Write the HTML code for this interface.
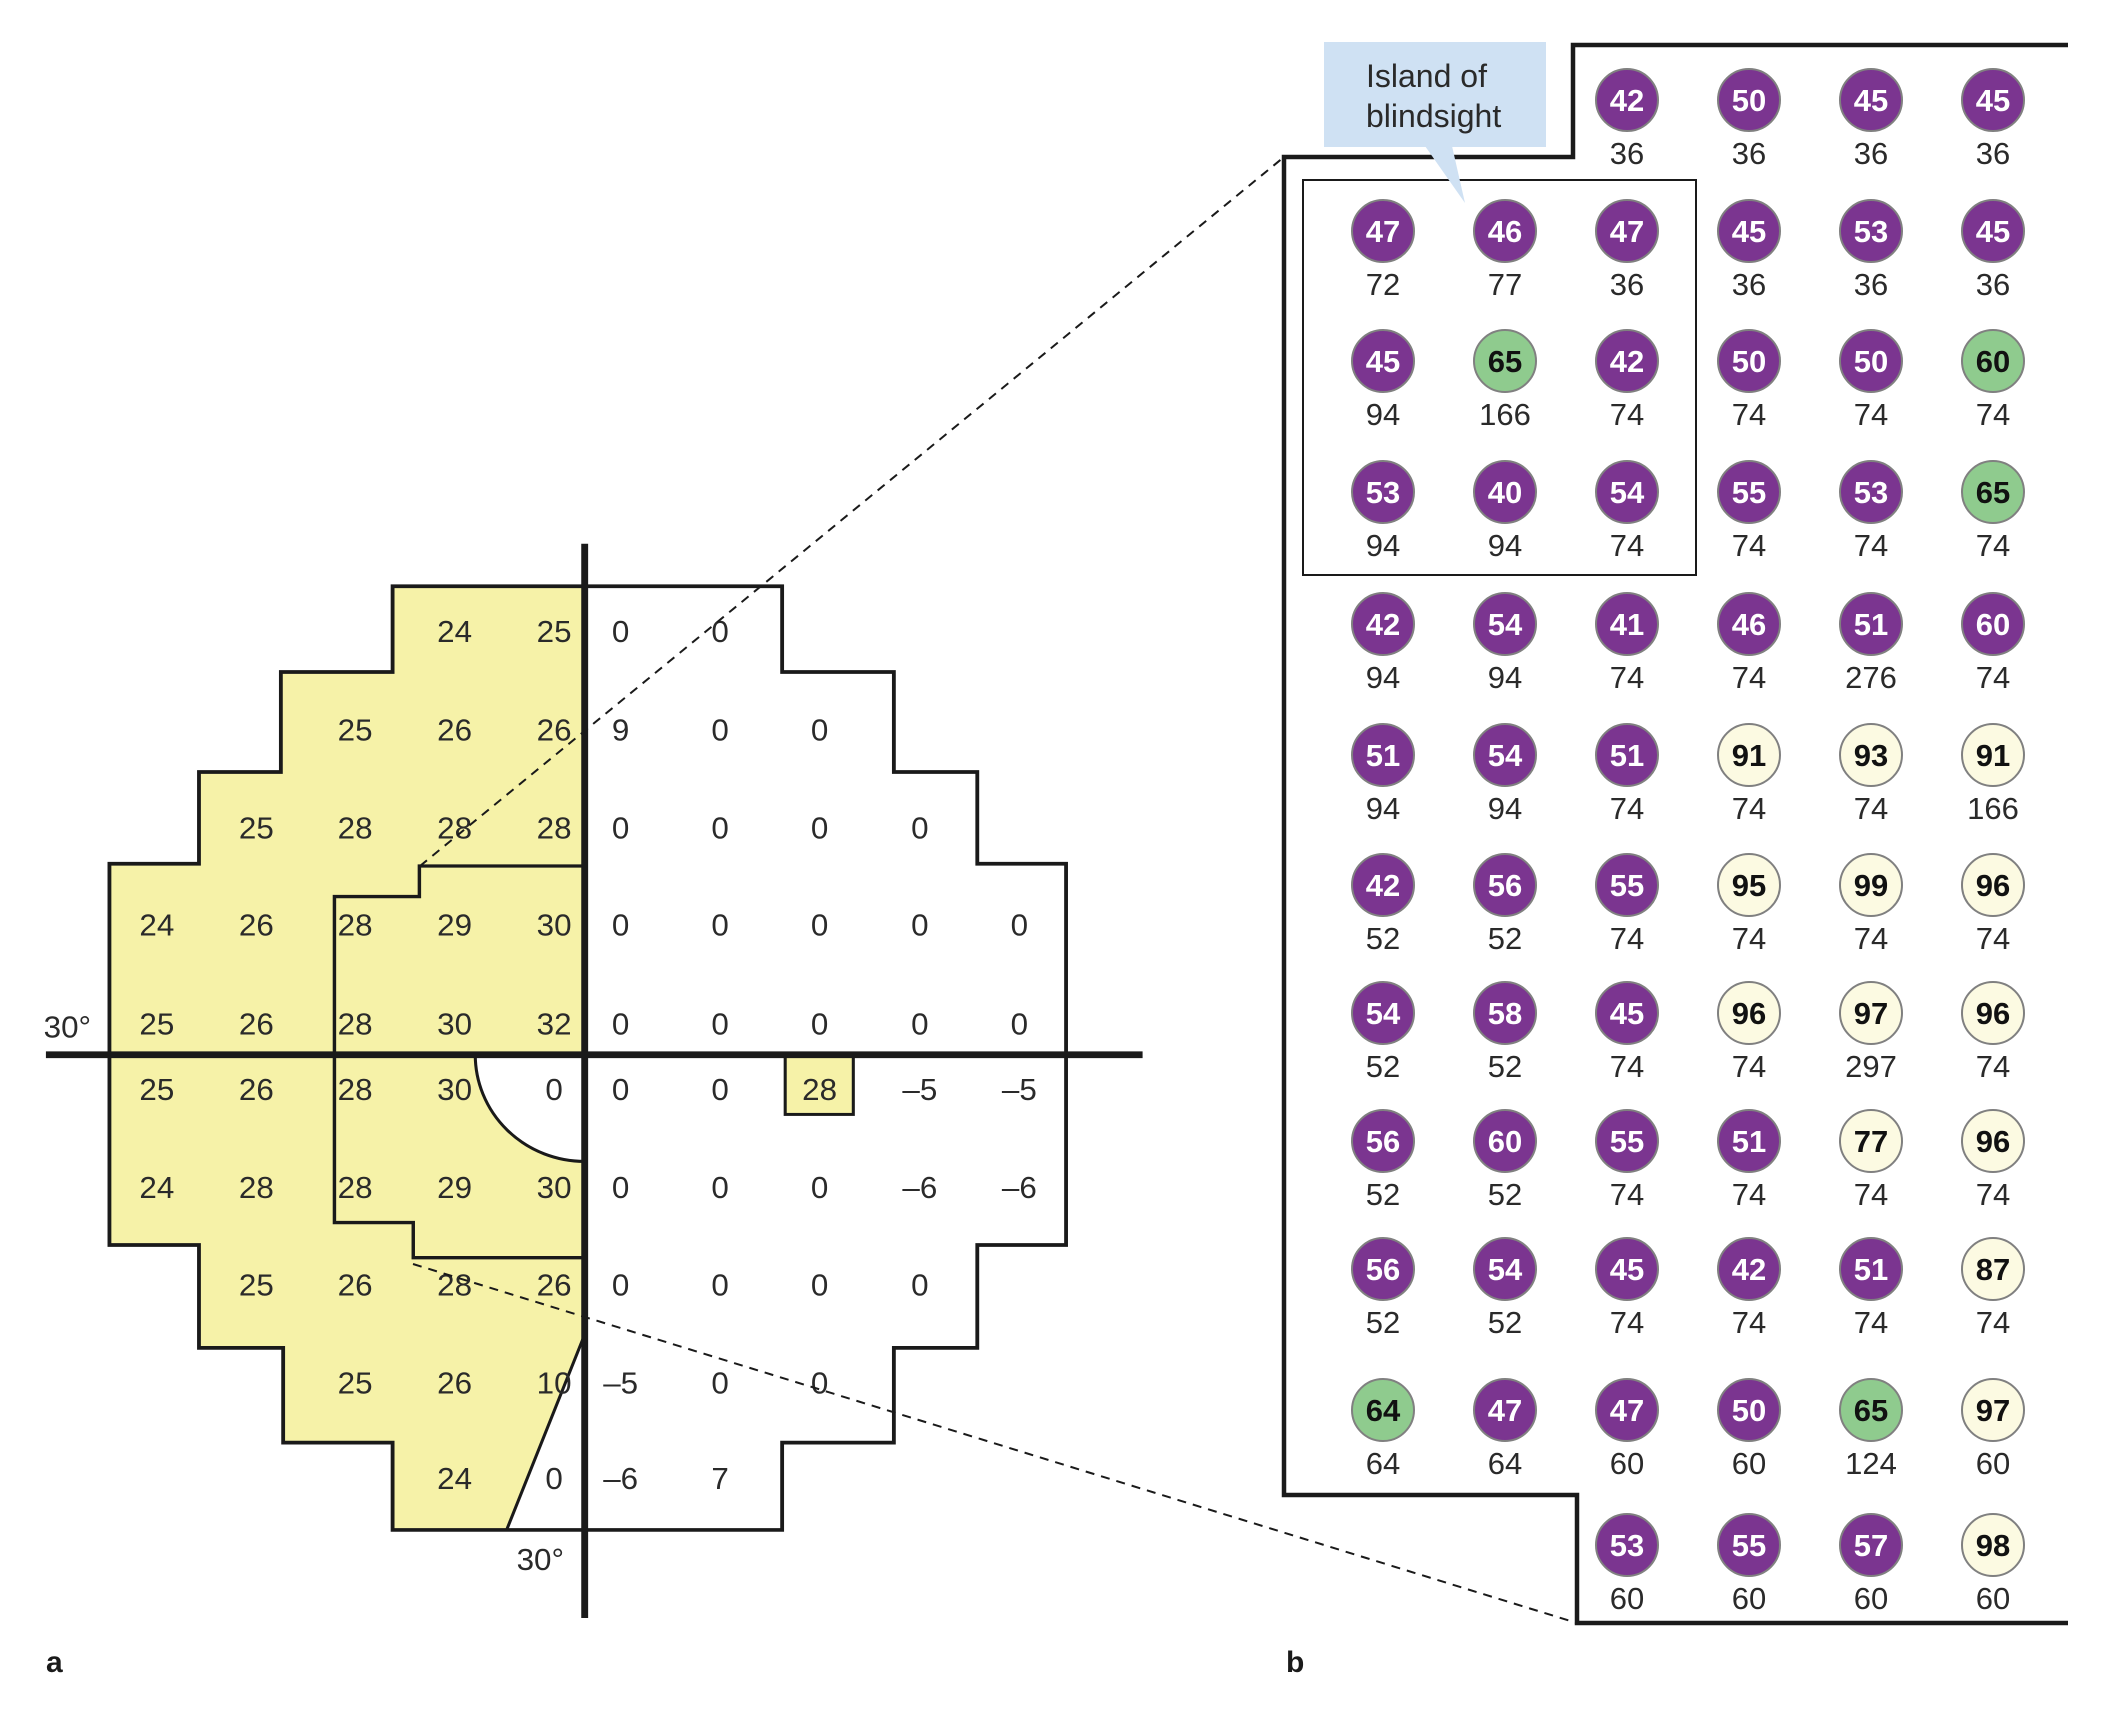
<!DOCTYPE html>
<html><head><meta charset="utf-8"><style>
html,body{margin:0;padding:0;background:#fff;}
svg{display:block;}
text{font-family:"Liberation Sans",sans-serif;}
.n{font-size:41px;fill:#2a2a2a;text-anchor:middle;}
.c{font-size:31px;font-weight:bold;text-anchor:middle;}
.l{font-size:31px;fill:#2a2a2a;text-anchor:middle;}
</style></head><body>
<svg width="2112" height="1711" viewBox="0 0 2112 1711" xmlns="http://www.w3.org/2000/svg">
<g transform="translate(0,540) scale(0.7653,0.746)">
<polygon points="513,62 764,62 764,1065 662,1327 513,1327 513,1210 370,1210 370,1083 260,1083 260,945 143,945 143,434 260,434 260,311 367,311 367,177 513,177" fill="#f6f2a8"/>
<path d="M621,690 A143,143 0 0 0 764,833 L764,690 Z" fill="#fff" stroke="#1a1a1a" stroke-width="4"/>
<rect x="1026" y="690" width="89" height="80" fill="#f6f2a8" stroke="#1a1a1a" stroke-width="4"/>
<polygon points="513,62 1022,62 1022,177 1168,177 1168,311 1277,311 1277,434 1393,434 1393,945 1277,945 1277,1083 1168,1083 1168,1210 1022,1210 1022,1327 513,1327 513,1210 370,1210 370,1083 260,1083 260,945 143,945 143,434 260,434 260,311 367,311 367,177 513,177" fill="none" stroke="#1a1a1a" stroke-width="5"/>
<polyline points="764,437 548,437 548,478 437,478 437,915 540,915 540,962 764,962" fill="none" stroke="#1a1a1a" stroke-width="4.5"/>
<line x1="764" y1="1065" x2="662" y2="1327" stroke="#1a1a1a" stroke-width="4"/>
<line x1="60" y1="690" x2="1493" y2="690" stroke="#1a1a1a" stroke-width="9"/>
<line x1="764" y1="5" x2="764" y2="1445" stroke="#1a1a1a" stroke-width="9"/>
<g class="n">
<text x="594" y="137">24</text><text x="724" y="137">25</text><text x="811" y="137">0</text><text x="941" y="137">0</text>
<text x="464" y="269">25</text><text x="594" y="269">26</text><text x="724" y="269">26</text><text x="811" y="269">9</text><text x="941" y="269">0</text><text x="1071" y="269">0</text>
<text x="335" y="400">25</text><text x="464" y="400">28</text><text x="594" y="400">28</text><text x="724" y="400">28</text><text x="811" y="400">0</text><text x="941" y="400">0</text><text x="1071" y="400">0</text><text x="1202" y="400">0</text>
<text x="205" y="530">24</text><text x="335" y="530">26</text><text x="464" y="530">28</text><text x="594" y="530">29</text><text x="724" y="530">30</text><text x="811" y="530">0</text><text x="941" y="530">0</text><text x="1071" y="530">0</text><text x="1202" y="530">0</text><text x="1332" y="530">0</text>
<text x="205" y="663">25</text><text x="335" y="663">26</text><text x="464" y="663">28</text><text x="594" y="663">30</text><text x="724" y="663">32</text><text x="811" y="663">0</text><text x="941" y="663">0</text><text x="1071" y="663">0</text><text x="1202" y="663">0</text><text x="1332" y="663">0</text>
<text x="205" y="751">25</text><text x="335" y="751">26</text><text x="464" y="751">28</text><text x="594" y="751">30</text><text x="724" y="751">0</text><text x="811" y="751">0</text><text x="941" y="751">0</text><text x="1071" y="751">28</text><text x="1202" y="751">–5</text><text x="1332" y="751">–5</text>
<text x="205" y="882">24</text><text x="335" y="882">28</text><text x="464" y="882">28</text><text x="594" y="882">29</text><text x="724" y="882">30</text><text x="811" y="882">0</text><text x="941" y="882">0</text><text x="1071" y="882">0</text><text x="1202" y="882">–6</text><text x="1332" y="882">–6</text>
<text x="335" y="1013">25</text><text x="464" y="1013">26</text><text x="594" y="1013">28</text><text x="724" y="1013">26</text><text x="811" y="1013">0</text><text x="941" y="1013">0</text><text x="1071" y="1013">0</text><text x="1202" y="1013">0</text>
<text x="464" y="1144">25</text><text x="594" y="1144">26</text><text x="724" y="1144">10</text><text x="811" y="1144">–5</text><text x="941" y="1144">0</text><text x="1071" y="1144">0</text>
<text x="594" y="1272">24</text><text x="724" y="1272">0</text><text x="811" y="1272">–6</text><text x="941" y="1272">7</text>
<text x="88" y="667">30°</text><text x="706" y="1381">30°</text>
</g>
</g>
<text x="46" y="1672" style="font-size:30px;font-weight:bold;fill:#1a1a1a">a</text>
<text x="1286" y="1672" style="font-size:30px;font-weight:bold;fill:#1a1a1a">b</text>
<line x1="420" y1="866" x2="1284" y2="157" stroke="#1a1a1a" stroke-width="2" stroke-dasharray="9,7"/>
<line x1="413" y1="1264" x2="1577" y2="1623" stroke="#1a1a1a" stroke-width="2" stroke-dasharray="9,7"/>
<polyline points="2068,45 1573,45 1573,157 1284,157 1284,1495 1577,1495 1577,1623 2068,1623" fill="none" stroke="#1a1a1a" stroke-width="4.5"/>
<rect x="1303" y="180" width="393" height="395" fill="none" stroke="#1a1a1a" stroke-width="2"/>
<rect x="1324" y="42" width="222" height="105" fill="#cfe1f3"/>
<polygon points="1425,146 1452,146 1465,203" fill="#cfe1f3"/>
<text x="1366" y="87" style="font-size:32px;fill:#2a2a2a">Island of</text>
<text x="1366" y="127" style="font-size:32px;fill:#2a2a2a">blindsight</text>
<g id="circ"></g>
</svg>
<script>
var xs=[1383,1505,1627,1749,1871,1993];
var ys=[100,231,361,492,624,755,885,1013,1141,1269,1410,1545];
var d=[
[null,null,"42/36","50/36","45/36","45/36"],
["47/72","46/77","47/36","45/36","53/36","45/36"],
["45/94","65g/166","42/74","50/74","50/74","60g/74"],
["53/94","40/94","54/74","55/74","53/74","65g/74"],
["42/94","54/94","41/74","46/74","51/276","60/74"],
["51/94","54/94","51/74","91c/74","93c/74","91c/166"],
["42/52","56/52","55/74","95c/74","99c/74","96c/74"],
["54/52","58/52","45/74","96c/74","97c/297","96c/74"],
["56/52","60/52","55/74","51/74","77c/74","96c/74"],
["56/52","54/52","45/74","42/74","51/74","87c/74"],
["64g/64","47/64","47/60","50/60","65g/124","97c/60"],
[null,null,"53/60","55/60","57/60","98c/60"]];
var s="";
for(var r=0;r<d.length;r++)for(var c=0;c<6;c++){var v=d[r][c];if(!v)continue;
var p=v.split("/"),a=p[0],t=a.slice(-1),fill="#7b3590",tc="#fff";
if(t=="g"){fill="#8fcb8e";tc="#111";a=a.slice(0,-1);}else if(t=="c"){fill="#fcfae2";tc="#111";a=a.slice(0,-1);}
var x=xs[c],y=ys[r];
s+='<circle cx="'+x+'" cy="'+y+'" r="31" fill="'+fill+'" stroke="#808080" stroke-width="2"/>';
s+='<text class="c" x="'+x+'" y="'+(y+11)+'" fill="'+tc+'">'+a+'</text>';
s+='<text class="l" x="'+x+'" y="'+(y+64)+'">'+p[1]+'</text>';}
document.getElementById("circ").innerHTML=s;
</script>
</body></html>
